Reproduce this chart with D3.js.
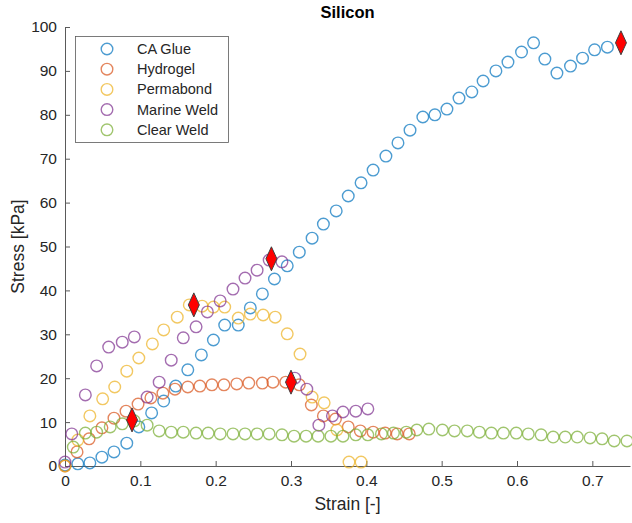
<!DOCTYPE html>
<html><head><meta charset="utf-8">
<script src="https://cdn.jsdelivr.net/npm/d3@7"></script>
<style>body{margin:0;background:#fff}svg{display:block;font-family:"Liberation Sans",Arial,sans-serif}</style>
</head><body><svg id="c" width="632" height="523"></svg>
<script>
const seriesNames = ["CA Glue","Hydrogel","Permabond","Marine Weld","Clear Weld"];
const seriesColors = ["#0072BD","#D95319","#EDB120","#7E2F8E","#77AC30"];
const caGlueX = [0,0.017,0.033,0.049,0.065,0.082,0.098,0.115,0.131,0.147,0.163,0.181,0.197,0.212,0.230,0.246,0.262,0.278,0.295,0.311,0.328,0.343,0.360,0.376,0.393,0.409,0.426,0.442,0.458,0.475,0.491,0.507,0.523,0.540,0.555,0.572,0.588,0.606,0.622,0.637,0.653,0.671,0.687,0.703,0.720];
const caGlueY = [0.2,0.5,0.7,2.0,3.2,5.2,8.9,12.1,14.8,18.2,21.9,25.3,28.7,32.1,32.1,36.0,39.2,42.6,45.6,48.7,51.9,55.1,58.1,61.5,64.5,67.4,70.6,73.6,76.5,79.5,80.0,81.3,83.8,85.2,87.7,90.0,92.0,94.3,96.4,92.7,89.5,91.1,92.9,94.8,95.4];
const hydrogelX = [0,0.016,0.032,0.049,0.065,0.081,0.097,0.114,0.130,0.146,0.163,0.179,0.195,0.211,0.228,0.244,0.262,0.276,0.293,0.311,0.327,0.343,0.359,0.376,0.392,0.409,0.425,0.441,0.457];
const hydrogelY = [0,3.2,6.2,8.7,10.9,12.5,14.1,15.5,16.6,17.5,18.0,18.2,18.5,18.5,18.7,18.9,18.9,19.1,19.1,18.5,13.9,11.4,10.7,8.9,8.0,7.7,7.5,7.3,7.3];
const permabondX = [0,0.017,0.033,0.050,0.066,0.082,0.098,0.116,0.131,0.149,0.165,0.182,0.197,0.212,0.230,0.246,0.263,0.279,0.295,0.312,0.328,0.344,0.361,0.377,0.393];
const permabondY = [0,5.9,11.4,15.3,18.0,21.6,24.6,27.8,31.0,33.9,36.7,36.4,36.2,36.2,33.7,34.6,34.4,33.9,30.1,25.5,15.7,14.4,8.2,0.9,0.9];
const marineX = [0,0.009,0.027,0.042,0.058,0.076,0.092,0.109,0.125,0.141,0.157,0.174,0.189,0.206,0.223,0.239,0.255,0.271,0.288,0.305,0.321,0.337,0.355,0.369,0.386,0.402];
const marineY = [0.9,7.3,16.2,22.8,27.1,28.2,29.4,15.7,19.1,24.1,29.2,31.7,35.1,37.6,40.3,42.8,44.6,46.9,46.5,20.0,17.5,9.3,11.4,12.3,12.5,13.0];
const clearX = [0.011,0.027,0.042,0.060,0.076,0.092,0.109,0.125,0.141,0.157,0.174,0.190,0.206,0.223,0.239,0.255,0.271,0.288,0.304,0.320,0.336,0.353,0.369,0.386,0.402,0.420,0.436,0.453,0.467,0.483,0.501,0.517,0.534,0.550,0.566,0.582,0.599,0.615,0.632,0.648,0.664,0.680,0.697,0.713,0.729,0.746];
const clearY = [4.3,7.5,7.7,8.9,9.6,10.3,9.3,8.0,7.7,7.7,7.5,7.5,7.3,7.3,7.3,7.3,7.3,7.1,6.8,6.8,6.8,6.8,6.8,7.1,7.1,7.3,7.5,7.7,8.2,8.4,8.2,8.0,8.0,7.7,7.5,7.5,7.5,7.3,7.1,6.6,6.6,6.6,6.4,6.2,5.7,5.7];
const peakX = [0.089,0.300,0.171,0.274,0.738];
const peakY = [10.5,19.1,36.7,47.2,96.4];
const xTicks = [0,0.1,0.2,0.3,0.4,0.5,0.6,0.7];
const yTicks = [0,10,20,30,40,50,60,70,80,90,100];

const seriesX = [caGlueX,hydrogelX,permabondX,marineX,clearX];
const seriesY = [caGlueY,hydrogelY,permabondY,marineY,clearY];

const svg = d3.select("#c");
const L=65,R=630,T=27,B=466;
const x = d3.scaleLinear().domain([0,0.75]).range([L,R]);
const y = d3.scaleLinear().domain([0,100]).range([B,T]);
const axisColor="#262626";
const lineColor="#5a5a5a";

// axes
const gx = svg.append("g").attr("transform",`translate(0,${B})`)
  .call(d3.axisBottom(x).tickValues(xTicks).tickSizeInner(-5).tickSizeOuter(0).tickPadding(9).tickFormat(d=>String(d)));
const gy = svg.append("g").attr("transform",`translate(${L},0)`)
  .call(d3.axisLeft(y).tickValues(yTicks).tickSizeInner(-5).tickSizeOuter(0).tickPadding(8).tickFormat(d=>String(d)));
[gx,gy].forEach(g=>{
  g.select(".domain").attr("stroke",lineColor).attr("stroke-width",1);
  g.selectAll(".tick line").attr("stroke",lineColor);
  g.selectAll(".tick text").attr("fill",axisColor).style("font-size","15.5px").style("font-family","Liberation Sans, Arial, sans-serif");
});

// series
seriesNames.forEach((n,i)=>{
  svg.append("g").selectAll("circle").data(seriesX[i].map((v,j)=>[v,seriesY[i][j]]))
    .join("circle").attr("cx",d=>x(d[0])).attr("cy",d=>y(d[1])).attr("r",5.8)
    .attr("fill","none").attr("stroke",seriesColors[i]).attr("stroke-width",1.4).attr("stroke-opacity",0.7);
});

// peak diamonds
const dia = "M0,-12L5.5,0L0,12L-5.5,0Z";
svg.append("g").selectAll("path").data(peakX.map((v,j)=>[v,peakY[j]]))
  .join("path").attr("d",dia).attr("transform",d=>`translate(${x(d[0])},${y(d[1])})`)
  .attr("fill","#FF0000").attr("stroke","#404040").attr("stroke-width",1);

// legend
const lg = svg.append("g");
lg.append("rect").attr("x",75.5).attr("y",36.5).attr("width",153).attr("height",106).attr("fill","#fff").attr("stroke",lineColor).attr("stroke-width",0.8);
seriesNames.forEach((n,i)=>{
  const yy = 49 + i*20.2;
  lg.append("circle").attr("cx",107).attr("cy",yy).attr("r",5.8).attr("fill","none").attr("stroke",seriesColors[i]).attr("stroke-width",1.4).attr("stroke-opacity",0.7);
  lg.append("text").attr("x",137).attr("y",yy).attr("dy","0.35em").attr("fill",axisColor).style("font-size","14.5px").text(n);
});

// labels
svg.append("text").attr("x",(L+R)/2).attr("y",18).attr("text-anchor","middle").attr("fill","#000").style("font-size","16.5px").style("font-weight","bold").text("Silicon");
svg.append("text").attr("x",(L+R)/2).attr("y",510).attr("text-anchor","middle").attr("fill",axisColor).style("font-size","17.5px").text("Strain [-]");
svg.append("text").attr("transform",`translate(24,${(T+B)/2}) rotate(-90)`).attr("text-anchor","middle").attr("fill",axisColor).style("font-size","17.5px").text("Stress [kPa]");
</script></body></html>
